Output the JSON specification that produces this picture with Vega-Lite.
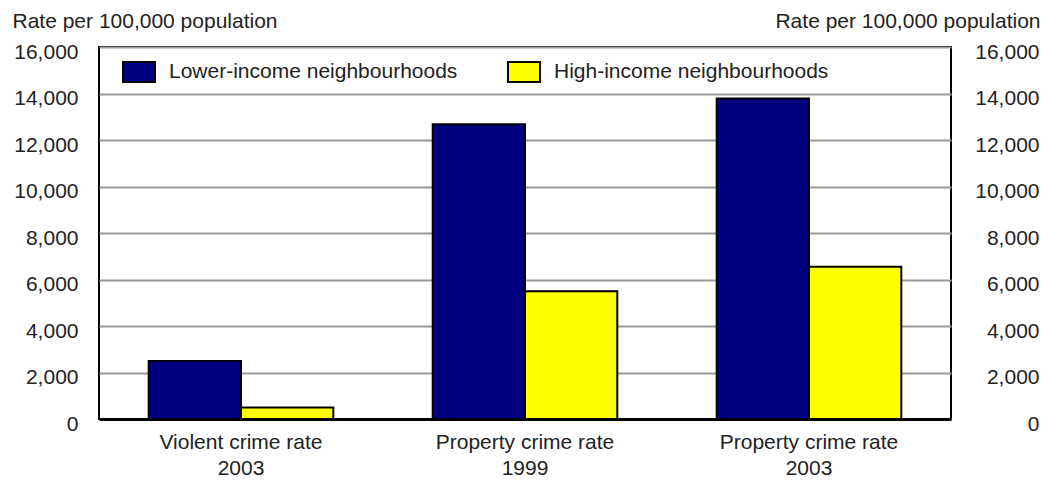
{
  "$schema": "https://vega.github.io/schema/vega-lite/v6.json",
  "width": 852,
  "height": 372,
  "autosize": "none",
  "padding": {"left": 99, "top": 47, "right": 107, "bottom": 65},
  "background": "white",
  "config": {
    "view": {"stroke": "black", "strokeWidth": 2},
    "font": "Liberation Sans",
    "axis": {"labelFont": "Liberation Sans", "labelFontSize": 21, "labelColor": "#222", "titleFont": "Liberation Sans", "titleFontSize": 21, "titleColor": "#222", "titleFontWeight": "normal"}
  },
  "data": {
    "values": [
      {"category": "Violent crime rate|2003", "group": "Lower-income neighbourhoods", "rate": 2500},
      {"category": "Violent crime rate|2003", "group": "High-income neighbourhoods", "rate": 500},
      {"category": "Property crime rate|1999", "group": "Lower-income neighbourhoods", "rate": 12680},
      {"category": "Property crime rate|1999", "group": "High-income neighbourhoods", "rate": 5500},
      {"category": "Property crime rate|2003", "group": "Lower-income neighbourhoods", "rate": 13790},
      {"category": "Property crime rate|2003", "group": "High-income neighbourhoods", "rate": 6550}
    ]
  },
  "layer": [
    {
      "mark": {"type": "bar", "stroke": "black", "strokeWidth": 2},
      "encoding": {
        "x": {
          "field": "category", "type": "nominal", "sort": null,
          "scale": {"paddingInner": 0.35, "paddingOuter": 0.175},
          "axis": {"title": null, "labelAngle": 0, "labelExpr": "split(datum.value, '|')", "labelLineHeight": 26, "labelPadding": 12, "ticks": false, "domainColor": "black", "domainWidth": 3}
        },
        "xOffset": {"field": "group", "type": "nominal", "sort": ["Lower-income neighbourhoods", "High-income neighbourhoods"], "scale": {"paddingInner": 0, "paddingOuter": 0}},
        "y": {
          "field": "rate", "type": "quantitative",
          "scale": {"domain": [0, 16000]},
          "axis": {"title": "Rate per 100,000 population", "titleAngle": 0, "titleAlign": "left", "titleBaseline": "alphabetic", "titleX": -87, "titleY": -20, "values": [0, 2000, 4000, 6000, 8000, 10000, 12000, 14000, 16000], "format": ",d", "ticks": false, "labelPadding": 21, "labelOffset": 5, "domain": false, "grid": true, "gridColor": "#999", "gridWidth": 2}
        },
        "color": {
          "field": "group", "type": "nominal",
          "scale": {"domain": ["Lower-income neighbourhoods", "High-income neighbourhoods"], "range": ["#000080", "#ffff00"]},
          "legend": {
            "title": null, "orient": "none", "direction": "horizontal", "legendX": 29, "legendY": 14, "padding": 0,
            "symbolType": "M-1.6,-1H1.6V1H-1.6Z", "symbolSize": 400, "symbolStrokeColor": "black", "symbolStrokeWidth": 2, "symbolOpacity": 1,
            "labelFont": "Liberation Sans", "labelFontSize": 21, "labelColor": "#222", "labelOffset": 19, "labelLimit": 500, "columnPadding": 46
          }
        }
      }
    },
    {
      "mark": {"type": "tick", "opacity": 0},
      "encoding": {
        "y": {
          "field": "rate", "type": "quantitative",
          "scale": {"domain": [0, 16000]},
          "axis": {"orient": "right", "title": "Rate per 100,000 population", "titleAngle": 0, "titleAlign": "right", "titleBaseline": "alphabetic", "titleX": 89, "titleY": -20, "values": [0, 2000, 4000, 6000, 8000, 10000, 12000, 14000, 16000], "format": ",d", "ticks": false, "labelAlign": "right", "labelPadding": 88, "labelOffset": 5, "domain": false, "grid": false}
        }
      }
    }
  ],
  "resolve": {"scale": {"y": "independent"}}
}
